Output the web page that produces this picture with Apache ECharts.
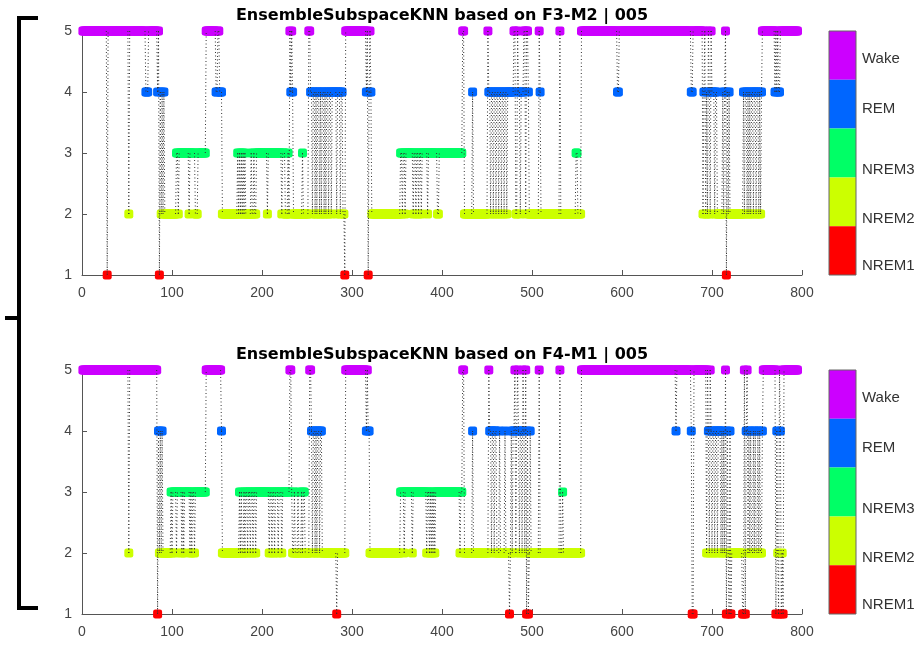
<!DOCTYPE html>
<html><head><meta charset="utf-8">
<script src="https://cdn.jsdelivr.net/npm/echarts@6/dist/echarts.min.js"></script>
<style>html,body{margin:0;padding:0;background:#fff}#c{width:923px;height:649px}</style>
</head><body><div id="c"></div><script>
// ---- data ----
const stageNames = ['NREM1', 'NREM2', 'NREM3', 'REM', 'Wake'];
const stageColors = ['#FF0000', '#CCFF00', '#00FF66', '#0066FF', '#CC00FF'];
const xTicks = [0, 100, 200, 300, 400, 500, 600, 700, 800];
const yTicks = [1, 2, 3, 4, 5];
const panelTitles = ['EnsembleSubspaceKNN based on F3-M2 | 005', 'EnsembleSubspaceKNN based on F4-M1 | 005'];
const lastEpoch = 795;
// run-length encoded hypnograms: [epoch where the run starts, stage 1..5]
const f3Runs = [[1,5],[28,1],[29,5],[52,2],[53,5],[71,4],[74,5],[84,4],[85,5],[86,1],[87,4],[88,2],[89,4],[90,2],[91,4],[92,2],[105,3],[107,2],[108,3],[119,2],[120,3],[126,2],[129,3],[138,5],[149,4],[151,5],[153,4],[156,2],[173,3],[174,2],[175,3],[176,2],[177,3],[178,2],[179,3],[180,2],[181,3],[182,2],[188,3],[189,2],[191,3],[192,2],[194,3],[206,2],[207,3],[222,2],[223,3],[226,2],[229,3],[230,2],[231,5],[232,4],[233,5],[234,4],[235,2],[245,3],[246,2],[252,5],[254,4],[256,2],[257,4],[259,2],[260,4],[261,2],[262,4],[264,2],[265,4],[266,2],[267,4],[269,2],[270,4],[271,2],[272,4],[274,2],[275,4],[277,2],[278,4],[283,2],[284,4],[287,2],[288,4],[290,2],[292,1],[293,5],[316,4],[317,5],[318,1],[319,4],[320,5],[321,4],[322,2],[354,3],[356,2],[357,3],[359,2],[360,3],[368,2],[369,3],[371,2],[372,3],[374,2],[375,3],[377,2],[378,3],[384,2],[385,3],[395,2],[397,3],[423,5],[425,2],[434,4],[435,2],[451,5],[452,4],[454,2],[455,4],[457,2],[458,4],[460,2],[461,4],[463,2],[464,4],[466,2],[467,4],[469,2],[470,4],[472,2],[473,4],[480,5],[482,2],[484,5],[485,4],[487,2],[488,4],[491,5],[493,2],[494,5],[496,4],[497,2],[508,5],[509,4],[510,2],[531,5],[532,2],[549,3],[551,2],[555,5],[595,4],[597,5],[677,4],[679,5],[690,2],[691,4],[692,5],[693,2],[694,4],[695,2],[696,5],[697,4],[698,2],[699,5],[700,4],[703,2],[704,4],[706,2],[712,4],[713,2],[714,4],[715,5],[716,1],[717,4],[718,2],[719,4],[720,2],[735,4],[736,2],[737,4],[739,2],[740,4],[741,2],[742,4],[743,2],[744,4],[746,2],[747,4],[749,2],[750,4],[752,2],[753,4],[754,2],[755,4],[756,5],[770,4],[771,5],[772,4],[773,5],[774,4],[776,5]];
const f4Runs = [[1,5],[52,2],[53,5],[84,1],[85,4],[86,2],[87,4],[88,2],[89,4],[90,2],[99,3],[100,2],[101,3],[105,2],[106,3],[111,2],[112,3],[113,2],[114,3],[120,2],[121,3],[122,2],[123,3],[125,2],[126,3],[138,5],[155,4],[156,2],[175,3],[176,2],[177,3],[178,2],[180,3],[181,2],[182,3],[184,2],[185,3],[187,2],[188,3],[190,2],[191,3],[193,2],[194,3],[208,2],[209,3],[211,2],[212,3],[214,2],[215,3],[218,2],[219,3],[222,2],[223,3],[231,5],[233,3],[234,2],[236,3],[237,2],[240,3],[241,2],[244,3],[245,2],[246,3],[248,2],[253,5],[255,4],[256,2],[257,4],[259,2],[260,4],[261,2],[262,4],[264,2],[265,4],[267,2],[283,1],[284,2],[293,5],[316,4],[317,5],[318,4],[320,2],[354,3],[358,2],[359,3],[367,2],[368,3],[383,2],[384,3],[386,2],[387,3],[388,2],[389,3],[390,2],[391,3],[392,2],[393,3],[420,2],[421,3],[423,5],[425,2],[434,4],[435,2],[452,5],[453,4],[455,2],[456,4],[458,2],[459,4],[461,2],[464,4],[465,2],[470,4],[471,2],[475,1],[476,2],[477,4],[478,2],[479,4],[481,5],[482,2],[483,4],[484,5],[485,4],[486,2],[487,4],[489,2],[490,5],[491,4],[492,2],[493,5],[494,1],[495,4],[496,1],[497,2],[498,4],[499,2],[508,5],[509,2],[531,5],[532,2],[534,3],[535,2],[555,5],[660,4],[661,5],[677,4],[678,1],[680,5],[694,2],[695,5],[696,4],[697,2],[698,5],[699,4],[700,2],[701,4],[703,2],[704,4],[706,2],[707,4],[710,2],[711,4],[712,2],[713,4],[714,2],[715,5],[716,1],[717,4],[718,2],[719,1],[720,4],[721,1],[722,2],[734,1],[736,5],[737,1],[738,4],[739,5],[740,2],[741,4],[742,2],[743,4],[744,2],[746,4],[747,2],[748,4],[749,2],[751,4],[752,2],[753,4],[754,2],[756,4],[757,5],[771,1],[772,4],[773,2],[774,1],[775,5],[776,4],[777,1],[778,2],[779,1],[780,5]];

// ---- layout ----
const gridLeft = 82, gridW = 720, gridH = 244, gridTops = [31, 370];
const cbX = 829, cbW = 27;
const cbLabelOffsets = [28, 77.7, 138.5, 187.5, 235]; // Wake .. NREM1 label centres below grid top

function expand(runs, end) {
  const pts = [];
  for (let i = 0; i < runs.length; i++) {
    const e = i + 1 < runs.length ? runs[i + 1][0] : end + 1;
    for (let x = runs[i][0]; x < e; x++) pts.push([x, runs[i][1]]);
  }
  return pts;
}
function transitions(pts) {
  const out = [];
  for (let i = 1; i < pts.length; i++) {
    if (pts[i][1] !== pts[i - 1][1]) out.push(pts[i - 1], pts[i], ['-', '-']);
  }
  return out;
}

const panels = [expand(f3Runs, lastEpoch), expand(f4Runs, lastEpoch)];

const axisColor = '#555';
const grids = [], xAxes = [], yAxes = [], series = [], graphics = [];
panels.forEach((pts, p) => {
  grids.push({left: gridLeft, top: gridTops[p], width: gridW, height: gridH});
  xAxes.push({
    gridIndex: p, type: 'value', min: xTicks[0], max: xTicks[xTicks.length - 1], interval: 100,
    axisLine: {show: true, lineStyle: {color: axisColor, width: 1}},
    axisTick: {show: true, inside: true, length: 5, lineStyle: {color: axisColor}},
    axisLabel: {fontSize: 14, color: '#444', margin: 11, fontFamily: 'Liberation Sans'},
    splitLine: {show: false}
  });
  yAxes.push({
    gridIndex: p, type: 'value', min: yTicks[0], max: yTicks[yTicks.length - 1], interval: 1,
    axisLine: {show: true, lineStyle: {color: axisColor, width: 1}},
    axisTick: {show: true, inside: true, length: 5, lineStyle: {color: axisColor}},
    axisLabel: {fontSize: 14, color: '#444', margin: 10, fontFamily: 'Liberation Sans'},
    splitLine: {show: false}
  });
  stageNames.forEach((name, s) => {
    series.push({
      type: 'scatter', name: name, xAxisIndex: p, yAxisIndex: p,
      data: pts.filter(d => d[1] === s + 1),
      symbol: 'roundRect', symbolSize: 9,
      itemStyle: {color: stageColors[s], opacity: 1},
      z: 2, silent: true
    });
  });
  series.push({
    type: 'line', xAxisIndex: p, yAxisIndex: p, data: transitions(pts),
    symbol: 'none', connectNulls: false,
    lineStyle: {color: '#333', width: 1, type: [1, 2.5]},
    z: 3, silent: true
  });
  graphics.push({
    type: 'text', x: gridLeft + gridW / 2, y: gridTops[p] - 15,
    style: {text: panelTitles[p], font: 'bold 16px "DejaVu Sans"', fill: '#000',
      textAlign: 'center', textVerticalAlign: 'middle', align: 'center', verticalAlign: 'middle'}
  });
  for (let k = 0; k < 5; k++) {
    const s = 4 - k;
    graphics.push({type: 'rect', shape: {x: cbX, y: gridTops[p] + k * gridH / 5, width: cbW, height: gridH / 5},
      style: {fill: stageColors[s]}});
    graphics.push({type: 'text', x: cbX + cbW + 6, y: gridTops[p] + cbLabelOffsets[k],
      style: {text: stageNames[s], font: '15px "Liberation Sans"', fill: '#333',
        textVerticalAlign: 'middle', verticalAlign: 'middle'}});
  }
  graphics.push({type: 'rect', shape: {x: cbX, y: gridTops[p], width: cbW, height: gridH},
    style: {fill: 'none', stroke: '#666', lineWidth: 1}});
});
graphics.push({type: 'polyline', shape: {points: [[38, 18], [19, 18], [19, 608], [38, 608]]},
  style: {stroke: '#000', lineWidth: 4, fill: 'none'}});
graphics.push({type: 'polyline', shape: {points: [[19, 318], [5, 318]]},
  style: {stroke: '#000', lineWidth: 4, fill: 'none'}});

const chart = echarts.init(document.getElementById('c'), null, {renderer: 'canvas'});
chart.setOption({
  animation: false,
  backgroundColor: '#fff',
  grid: grids, xAxis: xAxes, yAxis: yAxes, series: series, graphic: graphics
});
</script></body></html>
